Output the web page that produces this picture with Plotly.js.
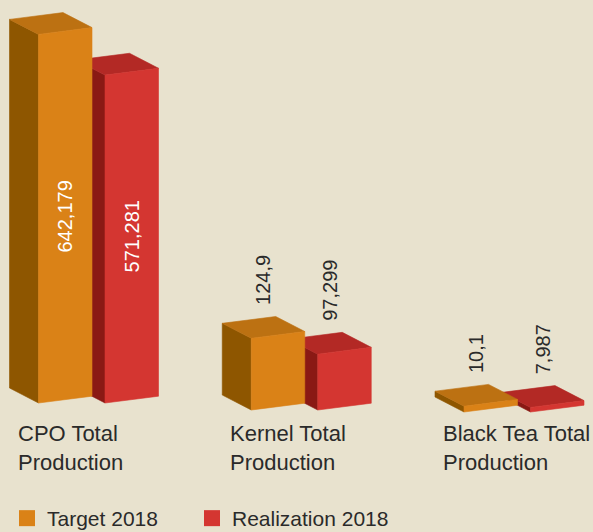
<!DOCTYPE html>
<html><head><meta charset="utf-8">
<script src="https://cdn.plot.ly/plotly-3.0.1.min.js"></script>
<style>html,body{margin:0;padding:0;background:#E8E2CE}#chart{width:593px;height:532px}</style>
</head><body><div id="chart"></div>
<script>
// ---- data ----
const categories = ["CPO Total<br>Production", "Kernel Total<br>Production", "Black Tea Total<br>Production"];
const seriesNames = ["Target 2018", "Realization 2018"];
const target2018 = [642.179, 124.9, 10.1];
const realization2018 = [571.281, 97.299, 7.987];
const targetLabels = ["642,179", "124,9", "10,1"];
const realizationLabels = ["571,281", "97,299", "7,987"];

// ---- geometry / style ----
const W_PX = 593, H_PX = 532;
const PITCH = 212.75;   // px per category
const X0 = 98.5;        // px of first category centre
const PXY = 0.574;      // px per value unit
const BASE0 = 403;      // px of the zero line for the first group
const ux = p => p / PITCH, uy = p => p / PXY;
const FACE_W = 53.5, SKEW = 6.8, DEPTH_X = -29, DEPTH_Y = 15;
const GROUP_DROP = [0, 7, 9];
const SERIES_OFFSET = [-60, 6.5];
const LEGEND_WIDTHS = [140, 175];
const COLORS = [
  {front: '#DA8217', side: '#8E5600', top: '#BC7112'},
  {front: '#D43631', side: '#8A1914', top: '#B32925'}
];
const FONT = 'Liberation Sans, Arial, sans-serif';
const TEXT = '#2a2a2a';

const seriesValues = [target2018, realization2018];
const seriesLabels = [targetLabels, realizationLabels];

const traces = [];
const annotations = [];

function poly(pts, color) {
  traces.push({
    type: 'scatter', mode: 'lines', fill: 'toself',
    x: pts.map(p => p[0]).concat([pts[0][0]]),
    y: pts.map(p => p[1]).concat([pts[0][1]]),
    fillcolor: color, line: {color: color, width: 0.6},
    hoverinfo: 'skip', showlegend: false
  });
}

// draw red series first (behind), then orange
[1, 0].forEach(s => {
  seriesValues[s].forEach((v, i) => {
    const xL = i + ux(SERIES_OFFSET[s]);
    const xR = xL + ux(FACE_W);
    const b = -uy(GROUP_DROP[i]);
    const bR = b + uy(SKEW);
    const tL = b + v, tR = bR + v;
    const dx = ux(DEPTH_X), dy = uy(DEPTH_Y);
    const c = COLORS[s];
    poly([[xL, b], [xL, tL], [xL + dx, tL + dy], [xL + dx, b + dy]], c.side);
    poly([[xL, tL], [xR, tR], [xR + dx, tR + dy], [xL + dx, tL + dy]], c.top);
    poly([[xL, b], [xR, bR], [xR, tR], [xL, tL]], c.front);
    if (v > 300) {
      annotations.push({
        x: (xL + xR) / 2, y: (b + bR) / 2 + v / 2, xref: 'x', yref: 'y',
        text: seriesLabels[s][i], textangle: -90, showarrow: false,
        xanchor: 'center', yanchor: 'middle', yshift: -1,
        font: {family: FONT, size: 20, color: '#ffffff'}
      });
    } else {
      annotations.push({
        x: (xL + xR) / 2 + dx / 2, y: (tL + tR) / 2 + dy / 2, xref: 'x', yref: 'y',
        text: seriesLabels[s][i], textangle: -90, showarrow: false,
        xanchor: 'center', yanchor: 'bottom', yshift: 20,
        font: {family: FONT, size: 20, color: TEXT}
      });
    }
  });
});

// category labels
categories.forEach((c, i) => {
  annotations.push({
    x: i, xref: 'x', y: (H_PX - 419) / H_PX, yref: 'paper',
    text: c, showarrow: false, xanchor: 'left', yanchor: 'top', align: 'left',
    xshift: -83, font: {family: FONT, size: 22, color: TEXT}
  });
});

// legend entries
seriesNames.forEach((n, s) => {
  traces.push({
    type: 'scatter', mode: 'markers', x: [null], y: [null], name: n,
    legendwidth: LEGEND_WIDTHS[s],
    marker: {symbol: 'square', size: 17, color: COLORS[s].front}, hoverinfo: 'skip'
  });
});

const layout = {
  width: W_PX, height: H_PX,
  margin: {l: 0, r: 0, t: 0, b: 0, pad: 0, autoexpand: false},
  paper_bgcolor: '#E8E2CE', plot_bgcolor: '#E8E2CE',
  xaxis: {range: [-X0 / PITCH, (W_PX - X0) / PITCH], visible: false, fixedrange: true},
  yaxis: {range: [-(H_PX - BASE0) / PXY, BASE0 / PXY], visible: false, fixedrange: true},
  showlegend: true,
  legend: {
    orientation: 'h', x: 7 / W_PX, xanchor: 'left', y: 13.5 / H_PX, yanchor: 'middle',
    font: {family: FONT, size: 21, color: TEXT}, bgcolor: 'rgba(0,0,0,0)',
    itemclick: false, itemdoubleclick: false
  },
  annotations: annotations,
  font: {family: FONT}
};

Plotly.newPlot('chart', traces, layout, {displayModeBar: false, staticPlot: true});
</script>
</body></html>
